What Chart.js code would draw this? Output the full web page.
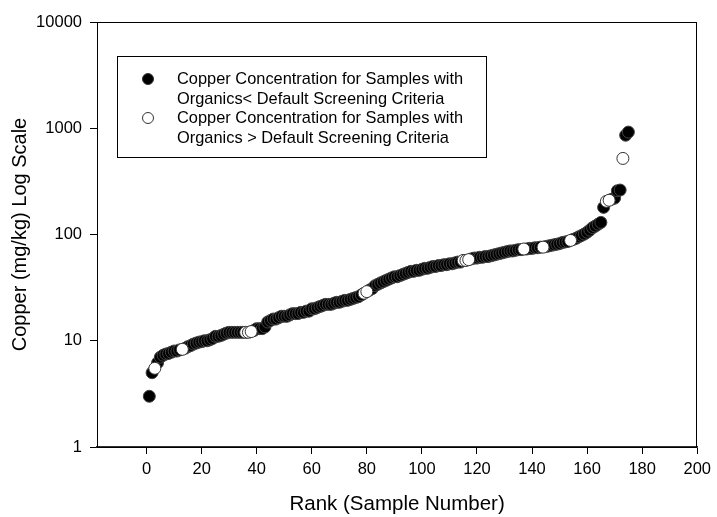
<!DOCTYPE html>
<html>
<head>
<meta charset="utf-8">
<script src="https://cdn.jsdelivr.net/npm/chart.js@4"></script>
<style>
  html, body { margin: 0; padding: 0; background: #fff; }
  #wrap { width: 717px; height: 517px; }
</style>
</head>
<body>
<div id="wrap"><canvas id="c" width="717" height="517"></canvas></div>
<script>
// Copper concentration (mg/kg) by rank 1..175
const copperValues = [
  3, 5, 5.5, 6.2, 7, 7.3, 7.5, 7.6, 7.8, 8,
  8, 8.2, 8.3, 8.5, 8.8, 9, 9.3, 9.5, 9.7, 9.8,
  10, 10, 10.2, 10.5, 11, 11, 11.2, 11.5, 11.8, 12,
  12, 12, 12, 12, 12, 12, 12, 12.2, 12.5, 13,
  13, 13, 13.5, 15, 15.5, 16, 16, 16.5, 17, 17,
  17, 17.5, 18, 18, 18, 18.5, 18.5, 19, 19, 20,
  20, 20.5, 21, 21.5, 22, 22, 22, 22.5, 23, 23,
  23.5, 24, 24, 24.5, 25, 25.5, 26, 27, 28, 29,
  30, 31, 33, 34, 35, 36, 37, 38, 39, 40,
  40, 41, 42, 43, 44, 45, 45, 46, 46, 47,
  48, 48, 49, 50, 50, 51, 51, 52, 52, 53,
  53, 54, 55, 55, 57, 57, 58, 59, 60, 60,
  61, 61, 62, 62, 63, 64, 65, 66, 67, 68,
  69, 70, 70, 71, 72, 72, 73, 73, 74, 74,
  75, 75, 76, 76, 77, 78, 79, 80, 81, 82,
  84, 85, 86, 88, 90, 92, 95, 98, 101, 105,
  110, 116, 120, 125, 130, 180, 205, 210, 215, 220,
  258, 262, 520, 860, 920
];
// Ranks of samples with organics > default screening criteria (open circles)
const organicsAboveRanks = [3, 13, 36, 37, 38, 79, 80, 115, 116, 117, 137, 144, 154, 167, 168, 173];
const xTickValues = [0, 20, 40, 60, 80, 100, 120, 140, 160, 180, 200];
const yTickValues = [1, 10, 100, 1000, 10000];
const legendLabels = [
  ['Copper Concentration for Samples with', 'Organics< Default Screening Criteria'],
  ['Copper Concentration for Samples with', 'Organics > Default Screening Criteria']
];

const FONT = 'Arial, "Liberation Sans", Helvetica, sans-serif';

const belowPts = [];
const abovePts = [];
copperValues.forEach((v, i) => {
  const rank = i + 1;
  const p = { x: rank, y: v };
  if (organicsAboveRanks.includes(rank)) abovePts.push(p); else belowPts.push(p);
});

const framePlugin = {
  id: 'frame',
  beforeDatasetsDraw(chart) {
    const { ctx, chartArea: a } = chart;
    ctx.save();
    ctx.strokeStyle = '#000';
    ctx.lineWidth = 1;
    ctx.strokeRect(Math.round(a.left) + 0.5, Math.round(a.top) + 0.5,
                   Math.round(a.right - a.left) - 1, Math.round(a.bottom - a.top));
    ctx.restore();
  }
};

const legendPlugin = {
  id: 'customLegend',
  afterDraw(chart) {
    const { ctx } = chart;
    ctx.save();
    ctx.strokeStyle = '#000';
    ctx.lineWidth = 1;
    ctx.strokeRect(117.5, 56.5, 369, 101);
    ctx.font = '16.4px ' + FONT;
    ctx.fillStyle = '#000';
    ctx.textBaseline = 'middle';
    ctx.textAlign = 'left';
    const rows = [79, 118];
    legendLabels.forEach((lines, k) => {
      const cy = rows[k];
      ctx.beginPath();
      ctx.arc(148, cy, 5.5, 0, Math.PI * 2);
      ctx.fillStyle = k === 0 ? '#000' : '#fff';
      ctx.fill();
      ctx.strokeStyle = '#333';
      ctx.lineWidth = 1;
      ctx.stroke();
      ctx.fillStyle = '#000';
      lines.forEach((t, j) => ctx.fillText(t, 177, cy + j * 20));
    });
    ctx.restore();
  }
};

new Chart(document.getElementById('c'), {
  type: 'scatter',
  data: {
    datasets: [
      {
        label: legendLabels[1].join(' '),
        data: abovePts,
        backgroundColor: '#fff',
        borderColor: '#333',
        borderWidth: 1,
        pointRadius: 6,
        pointHoverRadius: 6
      },
      {
        label: legendLabels[0].join(' '),
        data: belowPts,
        backgroundColor: '#000',
        borderColor: '#444',
        borderWidth: 1,
        pointRadius: 6,
        pointHoverRadius: 6
      }
    ]
  },
  options: {
    responsive: false,
    animation: false,
    devicePixelRatio: 1,
    layout: { padding: { top: 22, right: 15, left: 0, bottom: 0 } },
    plugins: { legend: { display: false }, tooltip: { enabled: false } },
    scales: {
      x: {
        type: 'linear',
        min: -18,
        max: 200,
        afterBuildTicks: s => { s.ticks = xTickValues.map(v => ({ value: v })); },
        afterFit: s => { s.height = 70; },
        grid: { drawOnChartArea: false, drawTicks: true, tickLength: 7, color: '#000', lineWidth: 1 },
        border: { display: true, color: '#333', width: 1.5 },
        ticks: { font: { size: 16.5, family: FONT }, color: '#000', padding: 6, maxRotation: 0, autoSkip: false },
        title: { display: true, text: 'Rank (Sample Number)', font: { size: 20.5, family: FONT }, color: '#000', padding: { top: 0, bottom: 0 } }
      },
      y: {
        type: 'logarithmic',
        min: 1,
        max: 10000,
        afterBuildTicks: s => { s.ticks = yTickValues.map(v => ({ value: v, major: true })); },
        afterFit: s => { s.width = 97; },
        grid: { drawOnChartArea: false, drawTicks: true, tickLength: 7, color: '#000', lineWidth: 1 },
        border: { display: true, color: '#000', width: 1 },
        ticks: { font: { size: 16.5, family: FONT }, color: '#000', padding: 8, callback: v => String(v), autoSkip: false },
        title: { display: true, text: 'Copper (mg/kg) Log Scale', font: { size: 20, family: FONT }, color: '#000', padding: { top: 8, bottom: 0 } }
      }
    }
  },
  plugins: [framePlugin, legendPlugin]
});
</script>
</body>
</html>
